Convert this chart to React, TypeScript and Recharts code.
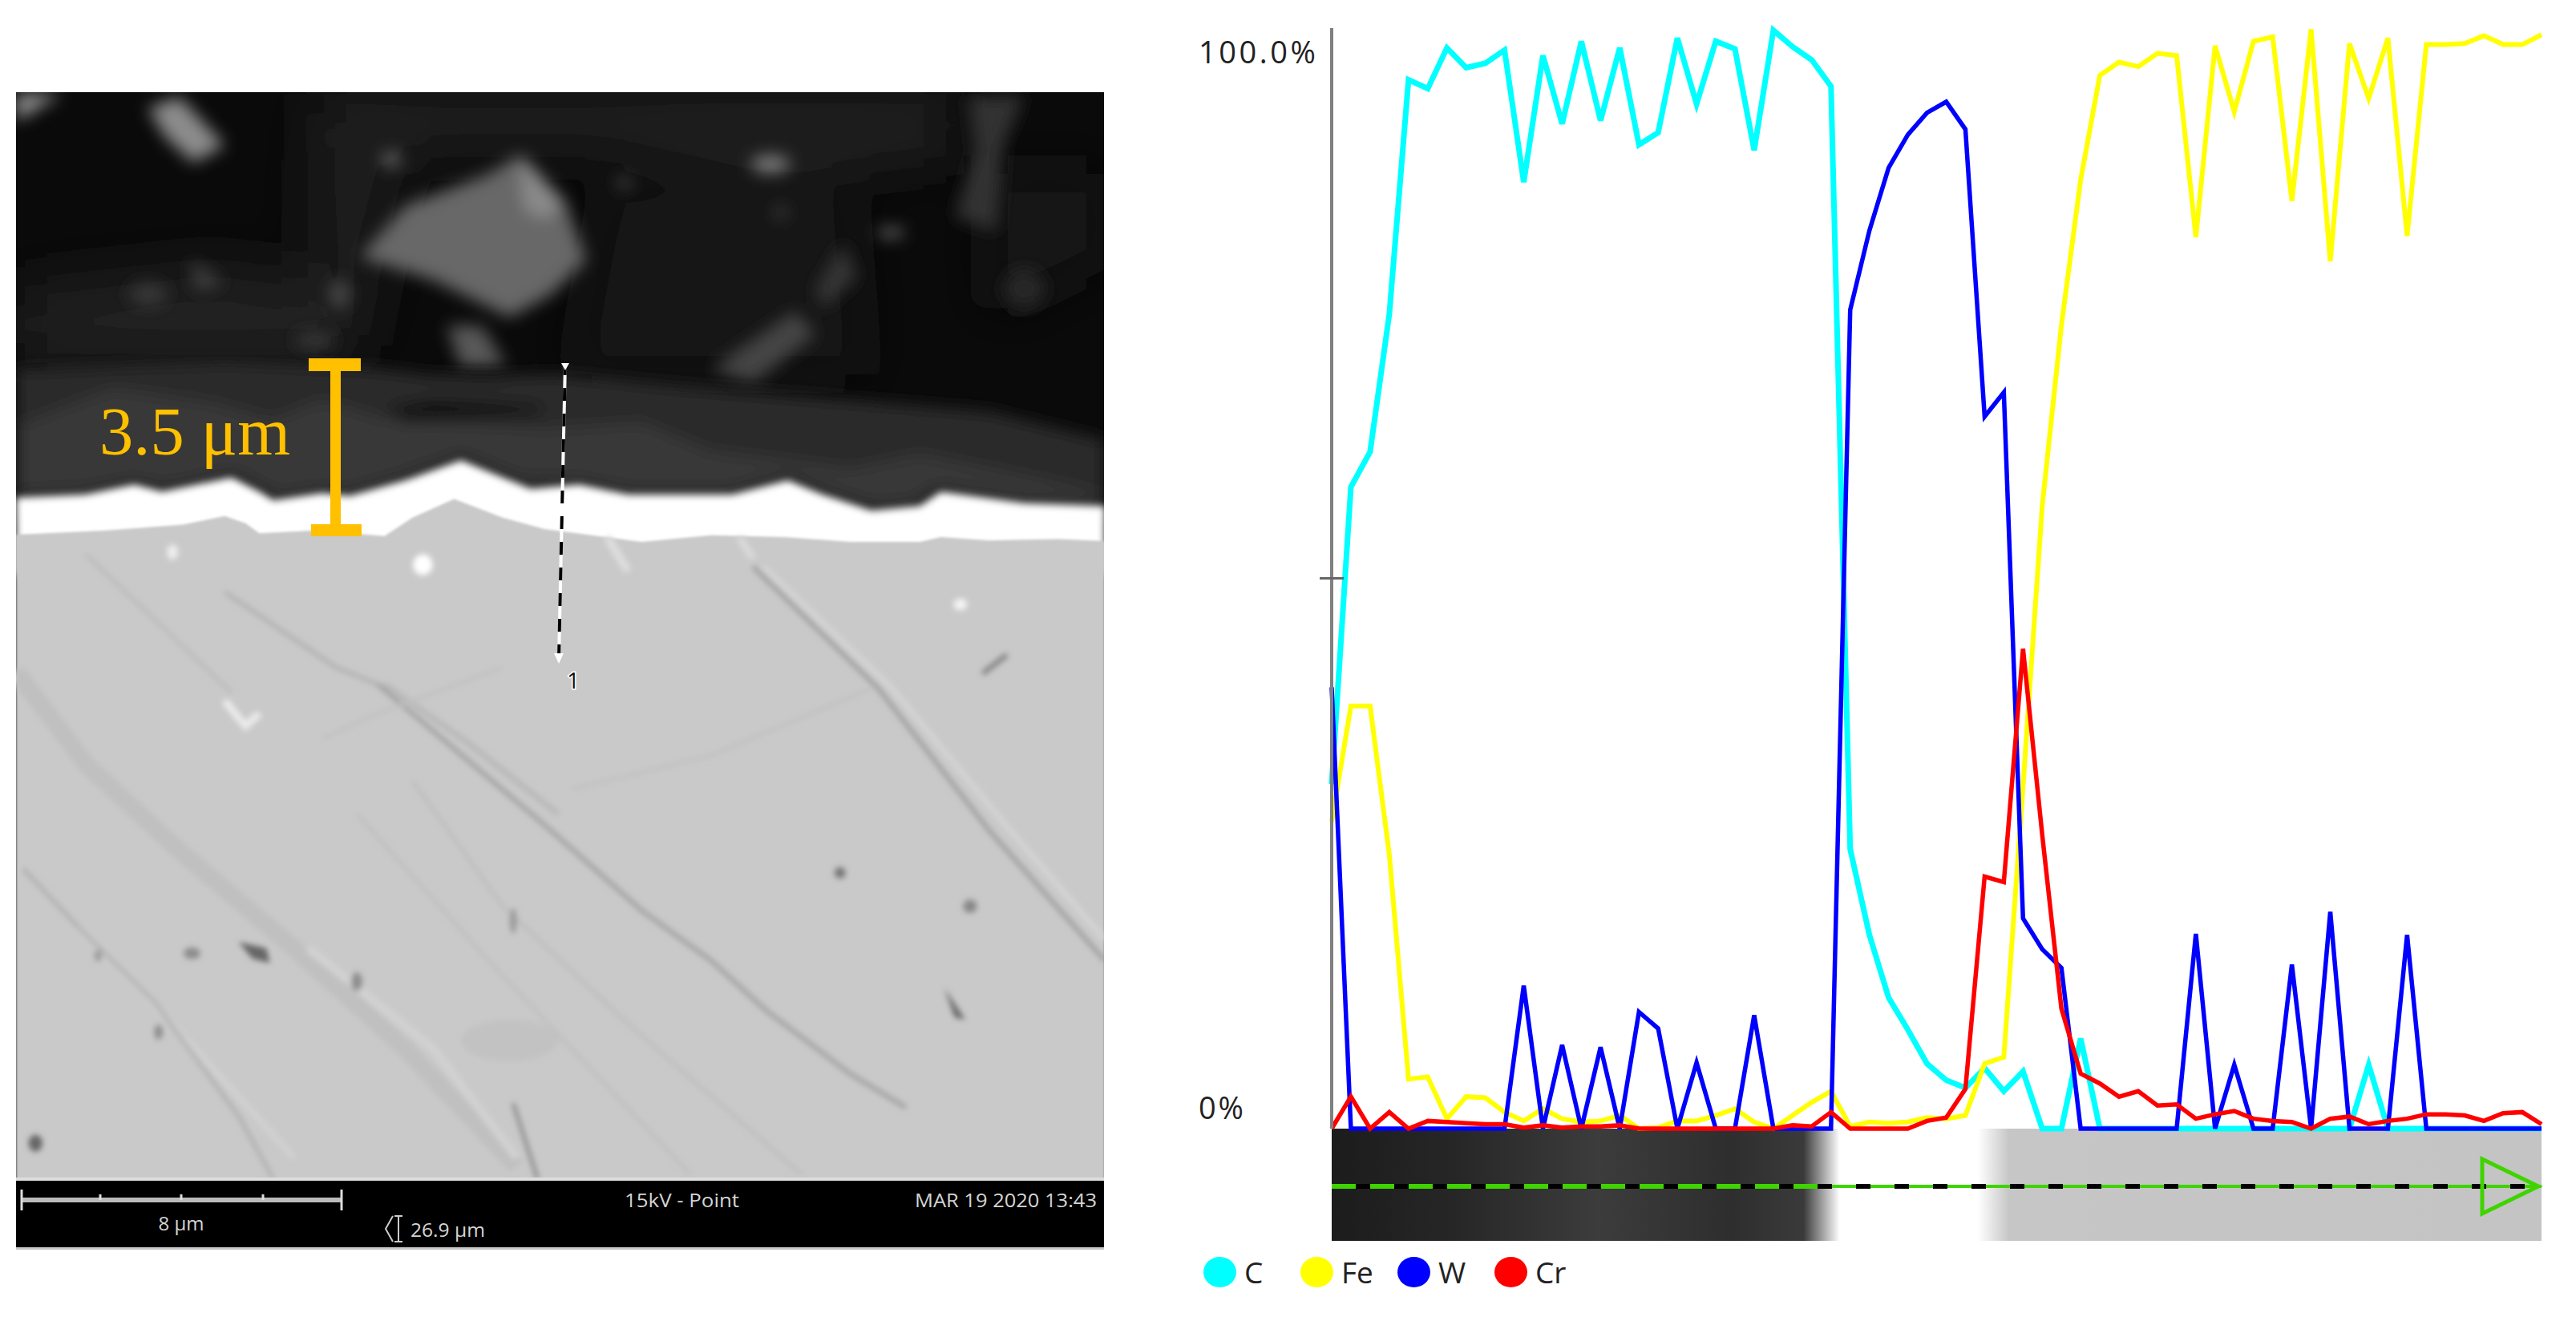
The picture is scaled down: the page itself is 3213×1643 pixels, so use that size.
import React from 'react'
import { LineChart, Line, XAxis, YAxis, Legend } from 'recharts'

// line scan, 64 points across the coating
const carbon = [
  31.3, 58.3, 61.5, 74.0, 95.3, 94.5, 98.2, 96.4, 96.8, 98.0,
  86.0, 97.5, 91.3, 98.8, 91.6, 98.2, 89.4, 90.5, 99.1, 93.1,
  98.8, 98.1, 88.9, 99.8, 98.3, 97.1, 94.7, 25.4, 17.6, 11.9,
  9.0, 5.9, 4.4, 3.7, 5.5, 3.4, 5.2, 0, 0, 8.2,
  0, 0, 0, 0, 0, 0, 0, 0, 0, 0,
  0, 0, 0, 0, 5.8, 0, 0, 0, 0, 0,
  0, 0, 0, 0,
]
const iron = [
  27.9, 38.4, 38.4, 24.9, 4.5, 4.7, 0.9, 2.9, 2.8, 1.5,
  0.7, 1.8, 0.9, 0.6, 0.7, 1.2, 0, 0.1, 0.7, 0.7,
  1.2, 1.8, 0.6, 0, 1.2, 2.4, 3.4, 0.2, 0.6, 0.5,
  0.6, 1.0, 0.9, 1.2, 5.9, 6.5, 31.1, 56.6, 73.0, 86.2,
  95.7, 96.9, 96.5, 97.7, 97.5, 81.0, 98.4, 92.4, 98.8, 99.2,
  84.3, 99.9, 78.8, 98.6, 93.6, 99.1, 81.1, 98.5, 98.5, 98.6,
  99.3, 98.5, 98.5, 99.4,
]
const tungsten = [
  40.1, 0, 0, 0, 0, 0, 0, 0, 0, 0,
  13.0, 0, 7.6, 0, 7.4, 0, 10.6, 9.1, 0, 6.0,
  0, 0, 10.3, 0, 0, 0, 0, 74.4, 81.6, 87.3,
  90.3, 92.3, 93.3, 90.8, 64.7, 66.9, 19.1, 16.3, 14.6, 0,
  0, 0, 0, 0, 0, 17.7, 0, 5.8, 0, 0,
  14.9, 0, 19.7, 0, 0, 0, 17.6, 0, 0, 0,
  0, 0, 0, 0,
]
const chromium = [
  0, 2.9, 0, 1.5, 0, 0.7, 0.6, 0.5, 0.4, 0.4,
  0.1, 0.3, 0.1, 0.2, 0.2, 0.3, 0, 0, 0, 0,
  0, 0, 0, 0, 0.3, 0.2, 1.5, 0, 0, 0,
  0, 0.7, 1.0, 3.6, 22.9, 22.4, 43.6, 26.7, 10.9, 5.0,
  4.1, 2.9, 3.4, 2.1, 2.2, 0.9, 1.3, 1.6, 0.9, 0.7,
  0.6, 0, 0.9, 1.1, 0.4, 0.7, 0.9, 1.3, 1.3, 1.2,
  0.7, 1.4, 1.5, 0.4,
]

const yTicks = [0, 50, 100]
const yLabels: Record<number, string> = { 0: '0%', 100: '100.0%' }

const rows = carbon.map((c, i) => ({ point: i, C: c, Fe: iron[i], W: tungsten[i], Cr: chromium[i] }))

const FONT = '"Open Sans", sans-serif'

const YTick = ({ x, y, payload }: any) => {
  const label = yLabels[payload.value]
  if (!label) return <line x1={x - 15} x2={x + 15} y1={y} y2={y} stroke="#666" strokeWidth={3} />
  const top = payload.value === 100
  return (
    <text
      x={x - 166}
      y={y + (top ? 30 : -26)}
      dy="0.36em"
      fontFamily={FONT}
      fontSize={38}
      fill="#222"
      textLength={top ? 146 : 56}
      lengthAdjust="spacing"
    >
      {label}
    </text>
  )
}

// absolute root so the legend takes no room from the plot
const LegendRow = ({ payload }: any) => (
  <div style={{ position: 'absolute', left: 0, top: 0, display: 'flex', fontFamily: FONT, fontSize: 37, color: '#222' }}>
    {payload.map((p: any) => (
      <div key={p.value} style={{ display: 'flex', alignItems: 'center', width: 121 }}>
        <span style={{ width: 41, height: 38, borderRadius: '50%', background: p.color, marginRight: 10 }} />
        {p.value}
      </div>
    ))}
  </div>
)

// the micrograph on the left and the strip under the plot are only a sketch of the photo
const S = ({ d, c, w }: { d: string; c: string; w: number }) => (
  <path d={d} fill="none" stroke={c} strokeWidth={w} vectorEffect="non-scaling-stroke" />
)

const UPPER_T = 'translate(20 110) scale(0.8673 0.3571)'
const LOWER_T = 'translate(20 660) scale(0.8673 0.523)'

const Micrograph = () => (
  <g>
    <clipPath id="panel"><rect x={20} y={115} width={1357} height={1357} /></clipPath>
    <rect x={20} y={115} width={1357} height={1357} fill="#0a0a0a" />
    <g clipPath="url(#panel)">
      <g filter="url(#haze)">
        <g transform={UPPER_T}>
          <path d="M430 20 L1350 20 L1350 230 L1100 300 L850 210 L600 210 L430 250 Z" fill="#222" />
          <path d="M420 250 L560 250 L500 900 L420 900 Z" fill="#1a1a1a" />
          <path d="M0 700 L290 620 L470 700 L480 960 L0 960 Z" fill="#202020" />
          <path d="M850 350 L1200 350 L1220 1000 L800 1000 Z" fill="#141414" />
          <path d="M1400 300 L1566 300 L1566 600 L1400 800 Z" fill="#181818" />
        </g>
      </g>
      <g filter="url(#soft5)">
        <g transform={UPPER_T}>
          <path d="M495 590 L560 410 L680 300 L720 240 L790 400 L820 600 L770 720 L710 800 L600 670 Z" fill="#686868" />
          <path d="M725 230 L790 400 L760 460 L730 420 Z" fill="#8a8a8a" />
          <path d="M0 20 L65 20 L0 115 Z" fill="#949494" />
          <path d="M190 70 L235 30 L300 200 L255 260 L215 170 Z" fill="#8c8c8c" />
          <path d="M620 830 L670 830 L705 970 L640 980 Z" fill="#585858" />
          <ellipse cx={1085} cy={265} rx={28} ry={30} fill="#808080" />
          <ellipse cx={540} cy={250} rx={14} ry={26} fill="#666" />
          <ellipse cx={1258} cy={505} rx={20} ry={15} fill="#777" />
          <ellipse cx={875} cy={330} rx={10} ry={18} fill="#555" />
          <ellipse cx={1100} cy={435} rx={8} ry={16} fill="#555" />
          <path d="M1000 980 L1120 780 L1150 860 L1060 1030 Z" fill="#444" />
          <path d="M1150 700 L1190 540 L1210 660 L1160 770 Z" fill="#353535" />
          <path d="M1370 30 L1450 25 L1420 200 L1410 500 L1350 450 L1380 220 Z" fill="#333" />
          <path d="M250 600 L300 680 L260 710 Z" fill="#404040" />
          <ellipse cx={190} cy={720} rx={28} ry={40} fill="#383838" />
          <ellipse cx={465} cy={720} rx={14} ry={50} fill="#484848" />
          <ellipse cx={430} cy={880} rx={30} ry={30} fill="#363636" />
          <ellipse cx={1450} cy={700} rx={30} ry={70} fill="#282828" />
        </g>
      </g>
      <g filter="url(#soft5)">
        <g transform={UPPER_T}>
          <path d="M0 985 L300 955 L520 980 L620 1010 L780 1000 L950 1040 L1200 1090 L1400 1130 L1566 1230 L1566 1500 L0 1500 Z" fill="#292929" />
          <path d="M0 1180 L140 1050 L280 1100 L370 1160 L440 1090 L520 1150 L760 1190 L900 1170 L1000 1270 L1200 1330 L1300 1280 L1420 1340 L1566 1420 L1566 1500 L0 1500 Z" fill="#383838" />
          <path d="M530 1120 L600 1090 L760 1110 L750 1140 L560 1165 Z" fill="#101010" />
          <path d="M600 985 L700 1000 L700 1015 L620 1010 Z" fill="#080808" />
          <path d="M0 1430 L100 1420 L170 1385 L210 1410 L310 1360 L370 1440 L440 1415 L480 1425 L560 1370 L640 1300 L720 1380 L810 1385 L880 1420 L1030 1420 L1110 1370 L1160 1420 L1230 1475 L1300 1460 L1330 1410 L1450 1450 L1566 1460" fill="none" stroke="#1c1c1c" strokeWidth={30} />
        </g>
      </g>
      <g filter="url(#soft3)">
        <g transform={UPPER_T}>
          <path
            d="M0 1430 L100 1420 L170 1385 L210 1410 L310 1360 L350 1410 L370 1440 L440 1415 L480 1425 L560 1370 L640 1300 L720 1380 L740 1400 L810 1385 L880 1420 L1030 1420 L1110 1370 L1160 1420 L1230 1475 L1300 1460 L1330 1410 L1450 1450 L1566 1460 L1566 1700 L0 1700 Z"
            fill="#fff"
          />
        </g>
      </g>
      <g filter="url(#soft1)">
        <g transform={UPPER_T}>
          <path
            d="M0 1560 L130 1545 L240 1525 L300 1495 L330 1520 L350 1555 L430 1545 L530 1565 L570 1500 L630 1435 L700 1500 L760 1540 L900 1585 L1000 1562 L1105 1568 L1200 1585 L1300 1585 L1330 1568 L1400 1580 L1500 1575 L1566 1582 L1566 3900 L0 3900 Z"
            fill="#c9c9c9"
          />
        </g>
      </g>
      <g filter="url(#soft2)">
        <g transform={LOWER_T}>
          <ellipse cx={710} cy={1220} rx={70} ry={50} fill="#c2c2c2" />
          <S d="M0 340 L100 560 L230 760 L400 1000 L560 1240 L720 1520" c="#c0c0c0" w={22} />
          <S d="M420 1000 L600 1240 L720 1500" c="#d2d2d2" w={10} />
          <S d="M530 370 L650 510 L780 680" c="#b8b8b8" w={7} />
          <S d="M520 370 L620 510 L770 720 L900 910 L1000 1030 L1080 1150 L1200 1300 L1280 1380" c="#9e9e9e" w={5} />
          <S d="M100 60 L310 390" c="#bcbcbc" w={5} />
          <S d="M300 150 L460 330 L520 370" c="#b0b0b0" w={5} />
          <S d="M1075 90 L1260 380 L1420 700 L1566 980" c="#d6d6d6" w={6} />
          <S d="M1060 90 L1240 380 L1400 720 L1566 1030" c="#9a9a9a" w={5} />
          <S d="M90 950 L180 1100 L400 1500" c="#d2d2d2" w={7} />
          <S d="M10 810 L90 950 L200 1130 L320 1400 L370 1550" c="#aaa" w={4} />
          <S d="M570 600 L700 900 L880 1180 L1130 1540" c="#bcbcbc" w={4} />
          <S d="M490 680 L680 1030 L970 1540" c="#bebebe" w={4} />
          <S d="M715 1370 L750 1550" c="#808080" w={4} />
          <S d="M800 620 L1000 540 L1230 380" c="#c0c0c0" w={4} />
          <S d="M440 500 L520 440 L700 330" c="#c0c0c0" w={4} />
          <path d="M320 985 L360 1000 L365 1035 L340 1025 Z" fill="#666" />
          <path d="M1335 1095 L1365 1170 L1350 1165 Z" fill="#666" />
          <S d="M1425 300 L1390 345" c="#808080" w={6} />
          <ellipse cx={253} cy={1012} rx={12} ry={14} fill="#8c8c8c" />
          <ellipse cx={118} cy={1018} rx={5} ry={14} fill="#999" />
          <ellipse cx={490} cy={1080} rx={8} ry={22} fill="#8c8c8c" />
          <ellipse cx={205} cy={1200} rx={6} ry={18} fill="#8c8c8c" />
          <ellipse cx={28} cy={1465} rx={10} ry={20} fill="#666" />
          <ellipse cx={1185} cy={820} rx={8} ry={14} fill="#777" />
          <ellipse cx={1372} cy={900} rx={10} ry={16} fill="#888" />
          <ellipse cx={715} cy={935} rx={5} ry={30} fill="#999" />
          <ellipse cx={585} cy={85} rx={14} ry={25} fill="#fff" />
          <ellipse cx={225} cy={55} rx={8} ry={18} fill="#eee" />
          <ellipse cx={1358} cy={180} rx={10} ry={14} fill="#f4f4f4" />
          <S d="M300 410 L330 470 L350 440" c="#ececec" w={9} />
          <S d="M850 20 L880 100" c="#dedede" w={10} />
          <S d="M1040 20 L1060 70" c="#dadada" w={9} />
        </g>
      </g>
    </g>
    {/* scan line drawn on the image */}
    <line x1={705} y1={452} x2={697} y2={822} stroke="#fff" strokeWidth={4} />
    <line x1={705} y1={452} x2={697} y2={822} stroke="#000" strokeWidth={4} strokeDasharray="16 16" />
    <path d="M700 453 L710 453 L705 462 Z" fill="#fff" />
    <path d="M691 815 L703 815 L697 828 Z" fill="#fff" />
    <text x={715} y={849} dy="0.36em" textAnchor="middle" fontFamily={FONT} fontSize={28} fill="#111" stroke="#fff" strokeWidth={3} paintOrder="stroke">1</text>
    {/* thickness bracket */}
    <g fill="#ffc000">
      <rect x={412} y={447} width={13} height={222} />
      <rect x={385} y={447} width={65} height={16} />
      <rect x={388} y={654} width={63} height={15} />
    </g>
    <text x={124} y={567} fontFamily='"Liberation Serif", serif' fontSize={84} fill="#ffc000" textLength={238} lengthAdjust="spacingAndGlyphs">3.5 μm</text>
    {/* info bar */}
    <rect x={20} y={1472} width={1357} height={84} fill="#000" />
    <rect x={20} y={1469} width={1357} height={4} fill="#ddd" />
    <rect x={20} y={1556} width={1357} height={3} fill="#c8c8c8" />
    <g stroke="#ddd" strokeWidth={3}>
      <line x1={27} x2={426} y1={1497} y2={1497} strokeWidth={6} stroke="#bbb" />
      <line x1={27} x2={27} y1={1484} y2={1510} />
      <line x1={426} x2={426} y1={1484} y2={1510} />
      <line x1={125} x2={125} y1={1490} y2={1497} />
      <line x1={226} x2={226} y1={1490} y2={1497} />
      <line x1={328} x2={328} y1={1490} y2={1497} />
    </g>
    <path d="M490 1517 L481 1533 L490 1549 M497 1517 L497 1549 M492 1517 L502 1517 M492 1549 L502 1549" fill="none" stroke="#ccc" strokeWidth={2} />
    <g fontFamily={FONT} fontSize={24} fill="#d4d4d4">
      <text x={226} y={1526} dy="0.36em" textAnchor="middle">8 μm</text>
      <text x={512} y={1534} dy="0.36em" textLength={93} lengthAdjust="spacingAndGlyphs">26.9 μm</text>
      <text x={779} y={1497} dy="0.36em" textLength={143} lengthAdjust="spacingAndGlyphs">15kV - Point</text>
      <text x={1141} y={1497} dy="0.36em" textLength={227} lengthAdjust="spacingAndGlyphs">MAR 19 2020 13:43</text>
    </g>
  </g>
)

const Strip = () => (
  <g>
    <defs>
      <linearGradient id="stripFill" x1="0" x2="1" y1="0" y2="0">
        <stop offset="0" stopColor="#1c1c1c" />
        <stop offset="0.1" stopColor="#262626" />
        <stop offset="0.22" stopColor="#3c3c3c" />
        <stop offset="0.33" stopColor="#2e2e2e" />
        <stop offset="0.39" stopColor="#3a3a3a" />
        <stop offset="0.42" stopColor="#ffffff" />
        <stop offset="0.534" stopColor="#ffffff" />
        <stop offset="0.56" stopColor="#c6c6c6" />
        <stop offset="1" stopColor="#c4c4c4" />
      </linearGradient>
    </defs>
    <rect x={1661} y={1408} width={1509} height={140} fill="url(#stripFill)" />
    <line x1={1661} x2={2267} y1={1480} y2={1480} stroke="#3fd400" strokeWidth={6} />
    <line x1={2267} x2={3170} y1={1480} y2={1480} stroke="#3fd400" strokeWidth={4} />
    <line x1={1661} x2={3170} y1={1480} y2={1480} stroke="#000" strokeWidth={6} strokeDasharray="18 30" strokeDashoffset={-30} />
    <path d="M3096 1446 L3166 1480 L3096 1514 Z" fill="none" stroke="#3fd400" strokeWidth={5} />
  </g>
)

export default function App() {
  return (
    <div style={{ position: 'absolute', left: 0, top: 0, width: 3213, height: 1643, background: '#fff', overflow: 'hidden' }}>
      <svg width={3213} height={1643} style={{ position: 'absolute', left: 0, top: 0 }}>
        <defs>
          <filter id="soft1"><feGaussianBlur stdDeviation="1.5" /></filter>
          <filter id="soft2" x="-5%" y="-5%" width="110%" height="110%"><feGaussianBlur stdDeviation="3.5" /></filter>
          <filter id="soft3"><feGaussianBlur stdDeviation="5" /></filter>
          <filter id="soft5" x="-5%" y="-5%" width="110%" height="110%"><feGaussianBlur stdDeviation="10" /></filter>
          <filter id="haze" x="-10%" y="-10%" width="120%" height="120%"><feGaussianBlur stdDeviation="35" /></filter>
        </defs>
        <Micrograph />
        <Strip />
      </svg>
      <div style={{ position: 'absolute', left: 0, top: 0 }}>
        <LineChart width={3213} height={1643} data={rows} margin={{ top: 35, right: 43, bottom: 235, left: 0 }}>
          <XAxis dataKey="point" type="number" domain={[0, 63]} hide />
          <YAxis
            width={1661}
            domain={[0, 100]}
            ticks={yTicks}
            interval={0}
            tickSize={0}
            tickMargin={0}
            tickLine={false}
            tick={<YTick />}
            axisLine={{ stroke: '#808080', strokeWidth: 4 }}
          />
          <Legend
            content={<LegendRow />}
            itemSorter={null}
            wrapperStyle={{ position: 'absolute', left: 1501, top: 1561, width: 500, bottom: 'auto' }}
          />
          <Line dataKey="C" stroke="#00ffff" strokeWidth={7} dot={false} isAnimationActive={false} />
          <Line dataKey="Fe" stroke="#ffff00" strokeWidth={6} dot={false} isAnimationActive={false} />
          <Line dataKey="W" stroke="#0000ff" strokeWidth={5.5} dot={false} isAnimationActive={false} />
          <Line dataKey="Cr" stroke="#ff0000" strokeWidth={5.5} dot={false} isAnimationActive={false} />
        </LineChart>
      </div>
    </div>
  )
}
